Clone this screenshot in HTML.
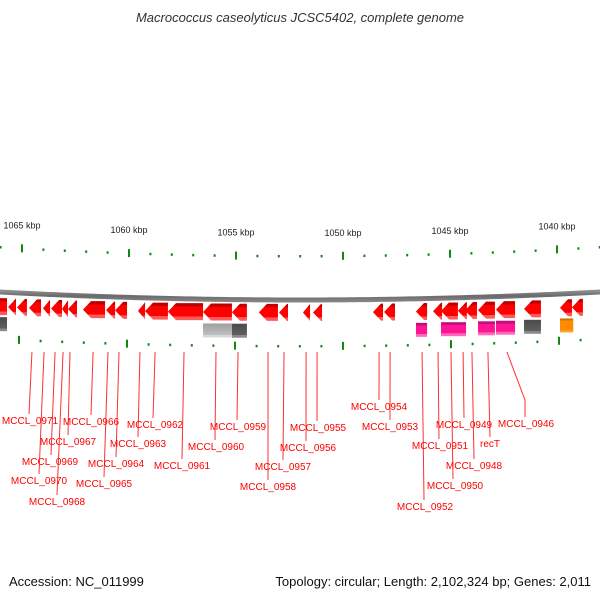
<!DOCTYPE html>
<html><head><meta charset="utf-8"><style>
html,body{margin:0;padding:0;background:#fff;width:600px;height:600px;overflow:hidden}
svg{display:block;font-family:"Liberation Sans","DejaVu Sans",sans-serif}
</style></head><body>
<svg id="chart" width="600" height="600" viewBox="0 0 600 600">
<defs>
<linearGradient id="gRed" x1="0" y1="0" x2="0" y2="1">
<stop offset="0" stop-color="#c00000"/><stop offset="0.18" stop-color="#c00000"/><stop offset="0.2" stop-color="#ff0000"/><stop offset="0.78" stop-color="#ff0000"/><stop offset="0.8" stop-color="#ff5a5a"/><stop offset="1" stop-color="#ff5a5a"/></linearGradient>
<linearGradient id="gPink" x1="0" y1="0" x2="0" y2="1">
<stop offset="0" stop-color="#c0107a"/><stop offset="0.18" stop-color="#c0107a"/><stop offset="0.2" stop-color="#ff1493"/><stop offset="0.78" stop-color="#ff1493"/><stop offset="0.8" stop-color="#ff6ab8"/><stop offset="1" stop-color="#ff6ab8"/></linearGradient>
<linearGradient id="gDark" x1="0" y1="0" x2="0" y2="1">
<stop offset="0" stop-color="#4a4a4a"/><stop offset="0.8" stop-color="#606060"/><stop offset="0.82" stop-color="#8a8a8a"/><stop offset="1" stop-color="#8a8a8a"/></linearGradient>
<linearGradient id="gLight" x1="0" y1="0" x2="0" y2="1">
<stop offset="0" stop-color="#a0a0a0"/><stop offset="0.8" stop-color="#bdbdbd"/><stop offset="0.82" stop-color="#d8d8d8"/><stop offset="1" stop-color="#d8d8d8"/></linearGradient>
<linearGradient id="gOrange" x1="0" y1="0" x2="0" y2="1">
<stop offset="0" stop-color="#c06000"/><stop offset="0.2" stop-color="#ff8c00"/><stop offset="0.8" stop-color="#ff8c00"/><stop offset="1" stop-color="#ffb050"/></linearGradient>
<linearGradient id="gBack" x1="0" y1="0" x2="0" y2="1">
<stop offset="0" stop-color="#9a9a9a"/><stop offset="0.5" stop-color="#6a6a6a"/><stop offset="1" stop-color="#8a8a8a"/></linearGradient>
</defs>
<text x="300" y="22" text-anchor="middle" font-size="13" font-style="italic" fill="#333">Macrococcus caseolyticus JCSC5402, complete genome</text>
<g id="ticks"></g>
<g id="backbone"></g>
<g id="genes"></g>
<g id="feats"></g>
<g id="labels"></g>
<text x="9" y="586" font-size="13" fill="#111">Accession: NC_011999</text>
<text x="591" y="586" text-anchor="end" font-size="13" fill="#111">Topology: circular; Length: 2,102,324 bp; Genes: 2,011</text>
</svg>
<script>
// data (kbp)
const tickStart = 1038;
const tickEnd = 1066;
const tickLabels = [1065, 1060, 1055, 1050, 1045, 1040];
const geneLeftKb  = [1066.03,1065.65,1065.23,1064.67,1064.02,1063.64,1063.13,1062.85,1062.15,1061.07,1060.65,1059.58,1059.25,1058.18,1056.54,1055.19,1053.93,1052.99,1051.87,1051.40,1048.60,1048.08,1046.59,1045.79,1045.42,1044.63,1044.30,1043.69,1042.85,1041.54,1039.86,1039.30];
const geneRightKb = [1065.70,1065.28,1064.77,1064.11,1063.69,1063.13,1062.85,1062.43,1061.12,1060.65,1060.09,1059.25,1058.18,1056.54,1055.19,1054.49,1053.04,1052.57,1051.54,1050.98,1048.13,1047.57,1046.07,1045.37,1044.63,1044.21,1043.74,1042.90,1041.96,1040.75,1039.30,1038.79];
const featLeftKb  = [1066.03,1056.54,1055.19,1046.59,1045.42,1043.69,1042.85,1041.54,1039.86];
const featRightKb = [1065.70,1055.19,1054.49,1046.07,1044.25,1042.90,1041.96,1040.75,1039.24];
const featKinds   = ['dark','light','dark','pink','pink','pink','pink','dark','orange'];
const labelNames = ['MCCL_0971','MCCL_0967','MCCL_0969','MCCL_0970','MCCL_0968','MCCL_0966','MCCL_0965','MCCL_0964','MCCL_0963','MCCL_0962','MCCL_0961','MCCL_0960','MCCL_0959','MCCL_0958','MCCL_0957','MCCL_0956','MCCL_0955','MCCL_0954','MCCL_0953','MCCL_0952','MCCL_0951','MCCL_0950','MCCL_0949','MCCL_0948','recT','MCCL_0946'];
const labelAnchorKb = [1064.40,1062.64,1063.33,1063.84,1062.96,1061.57,1060.88,1060.37,1059.40,1058.70,1057.36,1055.88,1054.86,1053.47,1052.73,1051.71,1051.20,1048.33,1047.82,1046.34,1045.60,1045.00,1044.44,1044.03,1043.29,1042.41];
const NS = 'http://www.w3.org/2000/svg';
// layout
const labelTextX = [30,68,50,39,57,91,104,116,138,155,182,216,238,268,283,308,318,379,390,425,440,455,464,474,490,526];
const labelTextY = [424,445,465,484,505,425,487,467,447,428,469,450,430,490,470,451,431,410,430,510,449,489,428,469,447,427];
const labelLineEndX = [29,68,51,39,57,91,104,116,138,153,182,215,237,268,283,306,317,379,390,424,439,453,464,474,490,525];
function xTop(kb){return 343-(kb-1050)*21.4;}
function xLow(kb){return 343-(kb-1050)*21.6;}
function u2(x){const u=(x-300)/300;return u*u;}
function mk(tag,attrs,parent){const e=document.createElementNS(NS,tag);for(const k in attrs)e.setAttribute(k,attrs[k]);parent.appendChild(e);return e;}
const gT=document.getElementById('ticks');
for(let kb=tickStart;kb<=tickEnd;kb++){
  const major=kb%5===0;
  const x1=xTop(kb), y1=256-9*u2(x1);
  const t=mk('rect',{x:x1-1,y:major?y1-4:y1-1,width:2,height:major?8:2.5,fill:'#118811'},gT);
  
  
  const x2=xLow(kb), y2=346-7*u2(x2);
  const t2=mk('rect',{x:x2-1,y:major?y2-4:y2-1,width:2,height:major?8:2.5,fill:'#118811'},gT);
  
  
}
tickLabels.forEach(kb=>{
  const x=xTop(kb), y=256-9*u2(x)-20;
  const t=mk('text',{x:x,y:y,'text-anchor':'middle','font-size':'9',fill:'#222'},gT);
  t.textContent=kb+' kbp';
  
  
});
// backbone
const gB=document.getElementById('backbone');
let d='';
for(let x=-5;x<=605;x+=5){d+=(x===-5?'M':'L')+x+','+(297.5-8*u2(x));}
for(let x=605;x>=-5;x-=5){d+='L'+x+','+(302.5-8*u2(x));}
const bb=mk('path',{d:d+'Z',fill:'url(#gBack)'},gB);


// genes
const gG=document.getElementById('genes');
geneLeftKb.forEach((lk,i)=>{
  const x1=xTop(lk), x2=xTop(geneRightKb[i]);
  const top=304-6*u2((x1+x2)/2), h=17, mid=top+h/2;
  const head=Math.min(8,x2-x1);
  const pts=i===0?`${x1},${top} ${x2},${top} ${x2},${top+h} ${x1},${top+h}`:
    `${x1},${mid} ${x1+head},${top} ${x2},${top} ${x2},${top+h} ${x1+head},${top+h}`;
  const p=mk('polygon',{points:pts,fill:'url(#gRed)'},gG);
  
  
});
// features
const gF=document.getElementById('feats');
const fills={dark:'url(#gDark)',light:'url(#gLight)',pink:'url(#gPink)',orange:'url(#gOrange)'};
featLeftKb.forEach((lk,i)=>{
  const x1=xTop(lk), x2=xTop(featRightKb[i]);
  const top=324-7*u2((x1+x2)/2);
  const r=mk('rect',{x:x1,y:top,width:x2-x1,height:14,fill:fills[featKinds[i]]},gF);
  
  
});
// labels
const gL=document.getElementById('labels');
labelNames.forEach((n,i)=>{
  const ax=xLow(labelAnchorKb[i]), tx=labelTextX[i], ty=labelTextY[i], ex=labelLineEndX[i];
  let pts=`${ax},352 ${ex},${ty-10}`;
  if(n==='MCCL_0946') pts=`${ax},352 ${ex},400 ${ex},${ty-10}`;
  const l=mk('polyline',{points:pts,stroke:'#ff3030','stroke-width':'1',fill:'none'},gL);
  
  
  const t=mk('text',{x:tx,y:ty,'text-anchor':'middle','font-size':'10',fill:'#ff0000'},gL);
  t.textContent=n;
  
  
});
</script>
</body></html>
